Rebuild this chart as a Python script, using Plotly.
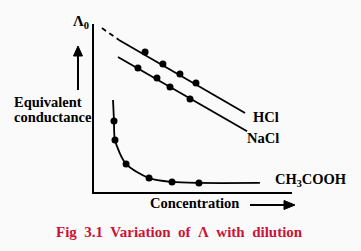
import plotly.graph_objects as go

# ---- data (concentration units 0..10, equivalent conductance units 0..10) ----
hcl_dash_x = [0.40, 1.26]
hcl_dash_y = [9.76, 9.05]
hcl_line_x = [1.26, 7.63]
hcl_line_y = [9.05, 4.70]
hcl_pts_x = [2.58, 3.48, 4.34, 5.15]
hcl_pts_y = [8.33, 7.62, 7.02, 6.49]

nacl_line_x = [1.21, 7.73]
nacl_line_y = [8.04, 3.62]
nacl_pts_x = [2.22, 3.18, 3.84, 4.85]
nacl_pts_y = [7.38, 6.79, 6.25, 5.54]

ac_curve_x = [0.96, 1.01, 1.06, 1.62, 2.78, 3.94, 5.30, 8.38]
ac_curve_y = [5.48, 4.23, 3.10, 1.67, 0.83, 0.60, 0.54, 0.54]
ac_pts_x = [1.01, 1.06, 1.62, 2.78, 3.94, 5.30]
ac_pts_y = [4.23, 3.10, 1.67, 0.83, 0.60, 0.54]

W, H = 361, 251
L, R, T, B = 94, 292, 24, 192


def px(x):
    return (x - L) / (R - L)


def py(y):
    return (B - y) / (B - T)


FONT = "Liberation Serif"
fig = go.Figure()
line_style = dict(color="black", width=1.8)
mk = dict(color="black", size=7)

fig.add_trace(go.Scatter(x=hcl_dash_x, y=hcl_dash_y, mode="lines",
                         line=dict(color="black", width=1.8, dash="5px,4px")))
fig.add_trace(go.Scatter(x=hcl_line_x, y=hcl_line_y, mode="lines", line=line_style))
fig.add_trace(go.Scatter(x=hcl_pts_x, y=hcl_pts_y, mode="markers", marker=mk))
fig.add_trace(go.Scatter(x=nacl_line_x, y=nacl_line_y, mode="lines", line=line_style))
fig.add_trace(go.Scatter(x=nacl_pts_x, y=nacl_pts_y, mode="markers", marker=mk))
fig.add_trace(go.Scatter(x=ac_curve_x, y=ac_curve_y, mode="lines",
                         line=dict(color="black", width=1.8, shape="spline", smoothing=0.8)))
fig.add_trace(go.Scatter(x=ac_pts_x, y=ac_pts_y, mode="markers", marker=mk))

ax_style = dict(range=[0, 10], showline=True, linecolor="black", linewidth=2,
                showgrid=False, zeroline=False, showticklabels=False, ticks="",
                fixedrange=True)

anns = []


def txt(t, x, y, size=14, color="black", bold=True):
    anns.append(dict(text=("<b>%s</b>" % t) if bold else t, x=px(x), y=py(y),
                     xref="paper", yref="paper", showarrow=False,
                     xanchor="center", yanchor="middle",
                     font=dict(family=FONT, size=size, color=color)))


txt("Λ<sub>0</sub>", 81, 22, size=15)
txt("HCl", 266, 117, size=14.5)
txt("NaCl", 263, 138, size=14.5)
txt("CH<sub>3</sub>COOH", 311, 180, size=14.5)
txt("Equivalent", 48, 102, size=14.5)
txt("conductance", 53, 117, size=14.5)
txt("Concentration", 194, 203, size=14.5)
txt("Fig  3.1  Variation  of  Λ  with  dilution", 179, 232, size=15, color="#cc1236")

# arrows drawn as shapes (shaft + filled head) in paper coordinates
shapes = []


def seg(x0, y0, x1, y1):
    shapes.append(dict(type="line", xref="paper", yref="paper",
                       x0=px(x0), y0=py(y0), x1=px(x1), y1=py(y1),
                       line=dict(color="black", width=2)))


def head(pts):
    path = "M " + " L ".join("%f,%f" % (px(a), py(b)) for a, b in pts) + " Z"
    shapes.append(dict(type="path", xref="paper", yref="paper", path=path,
                       fillcolor="black", line=dict(color="black", width=1)))


seg(78, 90, 78, 55)
head([(78, 46), (73.5, 56), (82.5, 56)])
seg(250, 205, 285, 205)
head([(295, 205), (284, 200.5), (284, 209.5)])

fig.update_layout(
    width=W, height=H,
    margin=dict(l=L, r=W - R, t=T, b=H - B, pad=0),
    paper_bgcolor="#fbfafa", plot_bgcolor="rgba(0,0,0,0)",
    showlegend=False,
    xaxis=ax_style, yaxis=ax_style,
    annotations=anns, shapes=shapes,
)

fig.write_html("out.html", config={"displayModeBar": False})
